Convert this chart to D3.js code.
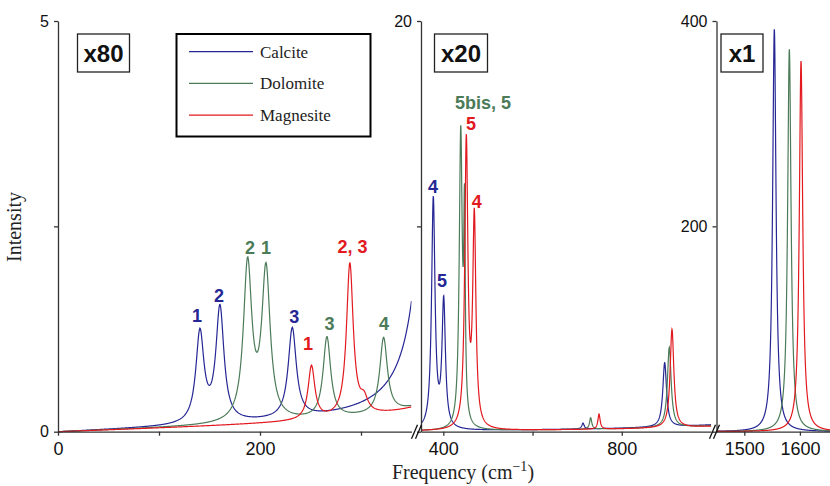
<!DOCTYPE html>
<html>
<head>
<meta charset="utf-8">
<script src="https://cdn.jsdelivr.net/npm/d3@7/dist/d3.min.js"></script>
<style>
  body { margin: 0; background: #fff; }
  svg { display: block; }
</style>
</head>
<body>
<div id="chart-area"></div>
<script>
// SERIES
const minerals = ['Calcite', 'Dolomite', 'Magnesite']
const colors = ['#262694', '#4b7b58', '#e2191f']

// PEAKS: FREQUENCY (cm-1), HEIGHT READ ON THE PANEL WHERE THE PEAK SITS, HALF WIDTH
const calciteFreq = [140.6, 160.4, 232, 377.6, 400.9, 713.1, 896.2, 1554]
const calciteHeight = [1.26, 1.55, 1.27, 11.48, 6.62, 0.42, 3.36, 392]
const calciteWidth = [4.8, 4.8, 4.8, 4.6, 4.6, 3, 5, 3.7]

const dolomiteFreq = [187.8, 206, 266.3, 322.4, 439.1, 447.5, 730.3, 906.5, 1581]
const dolomiteHeight = [2.13, 2.06, 1.16, 1.15, 14.94, 12.1, 0.68, 4.11, 372.4]
const dolomiteWidth = [5, 5, 4.5, 4.5, 4, 2, 3, 5, 3.7]

const magnesiteFreq = [251, 289, 303, 451.6, 469.5, 749, 912.6, 1602]
const magnesiteHeight = [0.81, 2.06, 0.5, 14.5, 10.9, 0.86, 4.99, 361]
const magnesiteWidth = [4, 4, 4.5, 4.2, 4.2, 3, 5, 3.7]

// PANELS (BROKEN FREQUENCY AXIS)
const zoomLabels = ['x80', 'x20', 'x1']
const zoomFactors = [80, 20, 1]
const freqDomains = [[0, 350], [350, 1000], [1450, 1655]]
const intensityMax = [5, 20, 400]
const xTickValues = [[0, 100, 200, 300], [400, 600, 800], [1500, 1600]]
const xTickLabels = [[0, 200], [400, 800], [1500, 1600]]
const yTickValues = [[0, 2.5, 5], [0, 10, 20], [0, 200, 400]]
const yTickLabels = [[0, 5], [20], [200, 400]]

// PEAK LABELS: SERIES, TEXT, FREQUENCY, INTENSITY (PANEL UNITS)
const peakLabels = [
    [0, '1', 137.6, 1.34], [0, '2', 159.4, 1.58], [0, '3', 234, 1.32],
    [1, '2', 190.1, 2.16], [1, '1', 205.9, 2.16], [1, '3', 268.8, 1.24], [1, '4', 322.8, 1.24],
    [2, '1', 247.5, 1.0], [2, '2, 3', 291.6, 2.17],
    [0, '4', 376.9, 11.62], [0, '5', 397.1, 7.06],
    [1, '5bis, 5', 489, 15.71],
    [2, '5', 462.1, 14.69], [2, '4', 474.9, 10.89]
]

// LAYOUT
const W = 830
const H = 486
const plotTop = 21
const plotBottom = 431.7
const panelRanges = [[58, 411.5], [421, 711], [716.5, 830.5]]
const zoomBoxes = [[77.5, 52], [434.5, 53], [721, 42]]
const breaks = [416.5, 714.5]

const svg = d3.select('#chart-area')
              .append('svg')
              .attr('width', W)
              .attr('height', H)
              .style('font-family', '"Liberation Sans", Arial, sans-serif')

// LINE SHAPE OF ONE PEAK (DAMPED OSCILLATOR), EQUAL TO 1 AT ITS CENTRE
const shape = (f, f0, w) => {
    const g = 2 * w
    return g * g * f0 * f / ((f0 * f0 - f * f) ** 2 + g * g * f * f)
}

const zoomAt = f => zoomFactors[freqDomains.findIndex(d => f <= d[1])]

// SOLVE AMPLITUDES SO THAT THE SUM HITS EACH READ PEAK HEIGHT
const buildSpectrum = (freq, height, width) => {
    const target = freq.map((f, i) => height[i] / zoomAt(f))
    const amp = target.slice()
    for (let it = 0; it < 80; it++) {
        freq.forEach((f, i) => {
            let other = 0
            freq.forEach((g, k) => { if (k !== i) other += amp[k] * shape(f, g, width[k]) })
            amp[i] = target[i] - other
        })
    }
    return f => d3.sum(freq, (g, k) => amp[k] * shape(f, g, width[k]))
}

const spectra = [
    buildSpectrum(calciteFreq, calciteHeight, calciteWidth),
    buildSpectrum(dolomiteFreq, dolomiteHeight, dolomiteWidth),
    buildSpectrum(magnesiteFreq, magnesiteHeight, magnesiteWidth)
]

// DRAW EACH PANEL
freqDomains.forEach((domain, p) => {
    const x = d3.scaleLinear().domain(domain).range(panelRanges[p])
    const y = d3.scaleLinear().domain([0, intensityMax[p]]).range([plotBottom, plotTop])
    const zoom = zoomFactors[p]

    svg.append('clipPath')
       .attr('id', 'clip' + p)
       .append('rect')
       .attr('x', panelRanges[p][0])
       .attr('y', 0)
       .attr('width', panelRanges[p][1] - panelRanges[p][0])
       .attr('height', plotBottom + 2)

    const step = p === 2 ? 0.25 : 0.5
    const grid = d3.range(domain[0], domain[1] + step, step)
    const line = d3.line()
                   .x(d => x(d[0]))
                   .y(d => y(d[1] * zoom))

    const g = svg.append('g').attr('clip-path', 'url(#clip' + p + ')')
    spectra.forEach((s, i) => {
        g.append('path')
         .datum(grid.map(f => [f, s(f)]))
         .attr('d', line)
         .attr('fill', 'none')
         .attr('stroke', colors[i])
         .attr('stroke-width', 1.2)
    })

    // AXES
    const xAxisCall = d3.axisBottom(x)
                        .tickValues(xTickValues[p])
                        .tickFormat(d => xTickLabels[p].includes(d) ? d : '')
                        .tickSize(4)
                        .tickSizeOuter(0)
                        .tickPadding(7)
    svg.append('g')
       .attr('class', 'x-axis')
       .attr('transform', 'translate(0, ' + plotBottom + ')')
       .call(xAxisCall)
       .call(a => a.selectAll('text').attr('font-size', '18px'))

    const yAxisCall = d3.axisLeft(y)
                        .tickValues(yTickValues[p])
                        .tickFormat(d => yTickLabels[p].includes(d) ? d : '')
                        .tickSize(4)
                        .tickSizeOuter(0)
                        .tickPadding(5)
    svg.append('g')
       .attr('class', 'y-axis')
       .attr('transform', 'translate(' + panelRanges[p][0] + ', 0)')
       .call(yAxisCall)
       .call(a => a.selectAll('text').attr('font-size', '16px'))

    // ZOOM BOX
    const [bx, bw] = zoomBoxes[p]
    svg.append('rect')
       .attr('x', bx)
       .attr('y', 34)
       .attr('width', bw)
       .attr('height', 38)
       .attr('fill', '#fff')
       .attr('stroke', '#222')
       .attr('stroke-width', 1.3)
    svg.append('text')
       .attr('x', bx + bw / 2)
       .attr('y', 62)
       .attr('text-anchor', 'middle')
       .attr('font-size', '24px')
       .attr('font-weight', 'bold')
       .attr('fill', '#111')
       .text(zoomLabels[p])

    // PEAK LABELS FOR THIS PANEL
    peakLabels.filter(d => d[2] >= domain[0] && d[2] <= domain[1])
              .forEach(d => {
                  svg.append('text')
                     .attr('x', x(d[2]))
                     .attr('y', y(d[3]))
                     .attr('text-anchor', 'middle')
                     .attr('font-size', '18px')
                     .attr('font-weight', 'bold')
                     .attr('fill', colors[d[0]])
                     .text(d[1])
              })
})

svg.selectAll('.domain, .tick line')
   .attr('stroke', '#333')
   .attr('stroke-width', 1.3)
svg.selectAll('.tick text').attr('fill', '#111')

// AXIS BREAKS
breaks.forEach(bx => {
    [-2, 2].forEach(dx => {
        svg.append('line')
           .attr('x1', bx + dx - 3)
           .attr('y1', plotBottom + 7)
           .attr('x2', bx + dx + 3)
           .attr('y2', plotBottom - 7)
           .attr('stroke', '#111')
           .attr('stroke-width', 1.3)
    })
})

// LEGEND
const legend = svg.append('g').attr('class', 'legend')
legend.append('rect')
      .attr('x', 176.5)
      .attr('y', 34)
      .attr('width', 194)
      .attr('height', 102.5)
      .attr('fill', '#fff')
      .attr('stroke', '#000')
      .attr('stroke-width', 2)
minerals.forEach((m, i) => {
    const ly = 51.7 + i * 31.7
    legend.append('line')
          .attr('x1', 189)
          .attr('x2', 253)
          .attr('y1', ly)
          .attr('y2', ly)
          .attr('stroke', colors[i])
          .attr('stroke-width', 1.3)
    legend.append('text')
          .attr('x', 260)
          .attr('y', ly + 6)
          .attr('font-family', '"Liberation Serif", "Times New Roman", serif')
          .attr('font-size', '17px')
          .attr('fill', '#222')
          .text(m)
})

// AXIS TITLES
const xTitle = svg.append('text')
                  .attr('x', 463)
                  .attr('y', 479)
                  .attr('text-anchor', 'middle')
                  .attr('font-family', '"Liberation Serif", "Times New Roman", serif')
                  .attr('font-size', '20px')
                  .attr('fill', '#222')
xTitle.append('tspan').text('Frequency (cm')
xTitle.append('tspan').attr('dy', -8).attr('font-size', '14px').text('\u22121')
xTitle.append('tspan').attr('dy', 8).text(')')

svg.append('text')
   .attr('transform', 'translate(21, 227) rotate(-90)')
   .attr('text-anchor', 'middle')
   .attr('font-family', '"Liberation Serif", "Times New Roman", serif')
   .attr('font-size', '20px')
   .attr('fill', '#222')
   .text('Intensity')
</script>
</body>
</html>
